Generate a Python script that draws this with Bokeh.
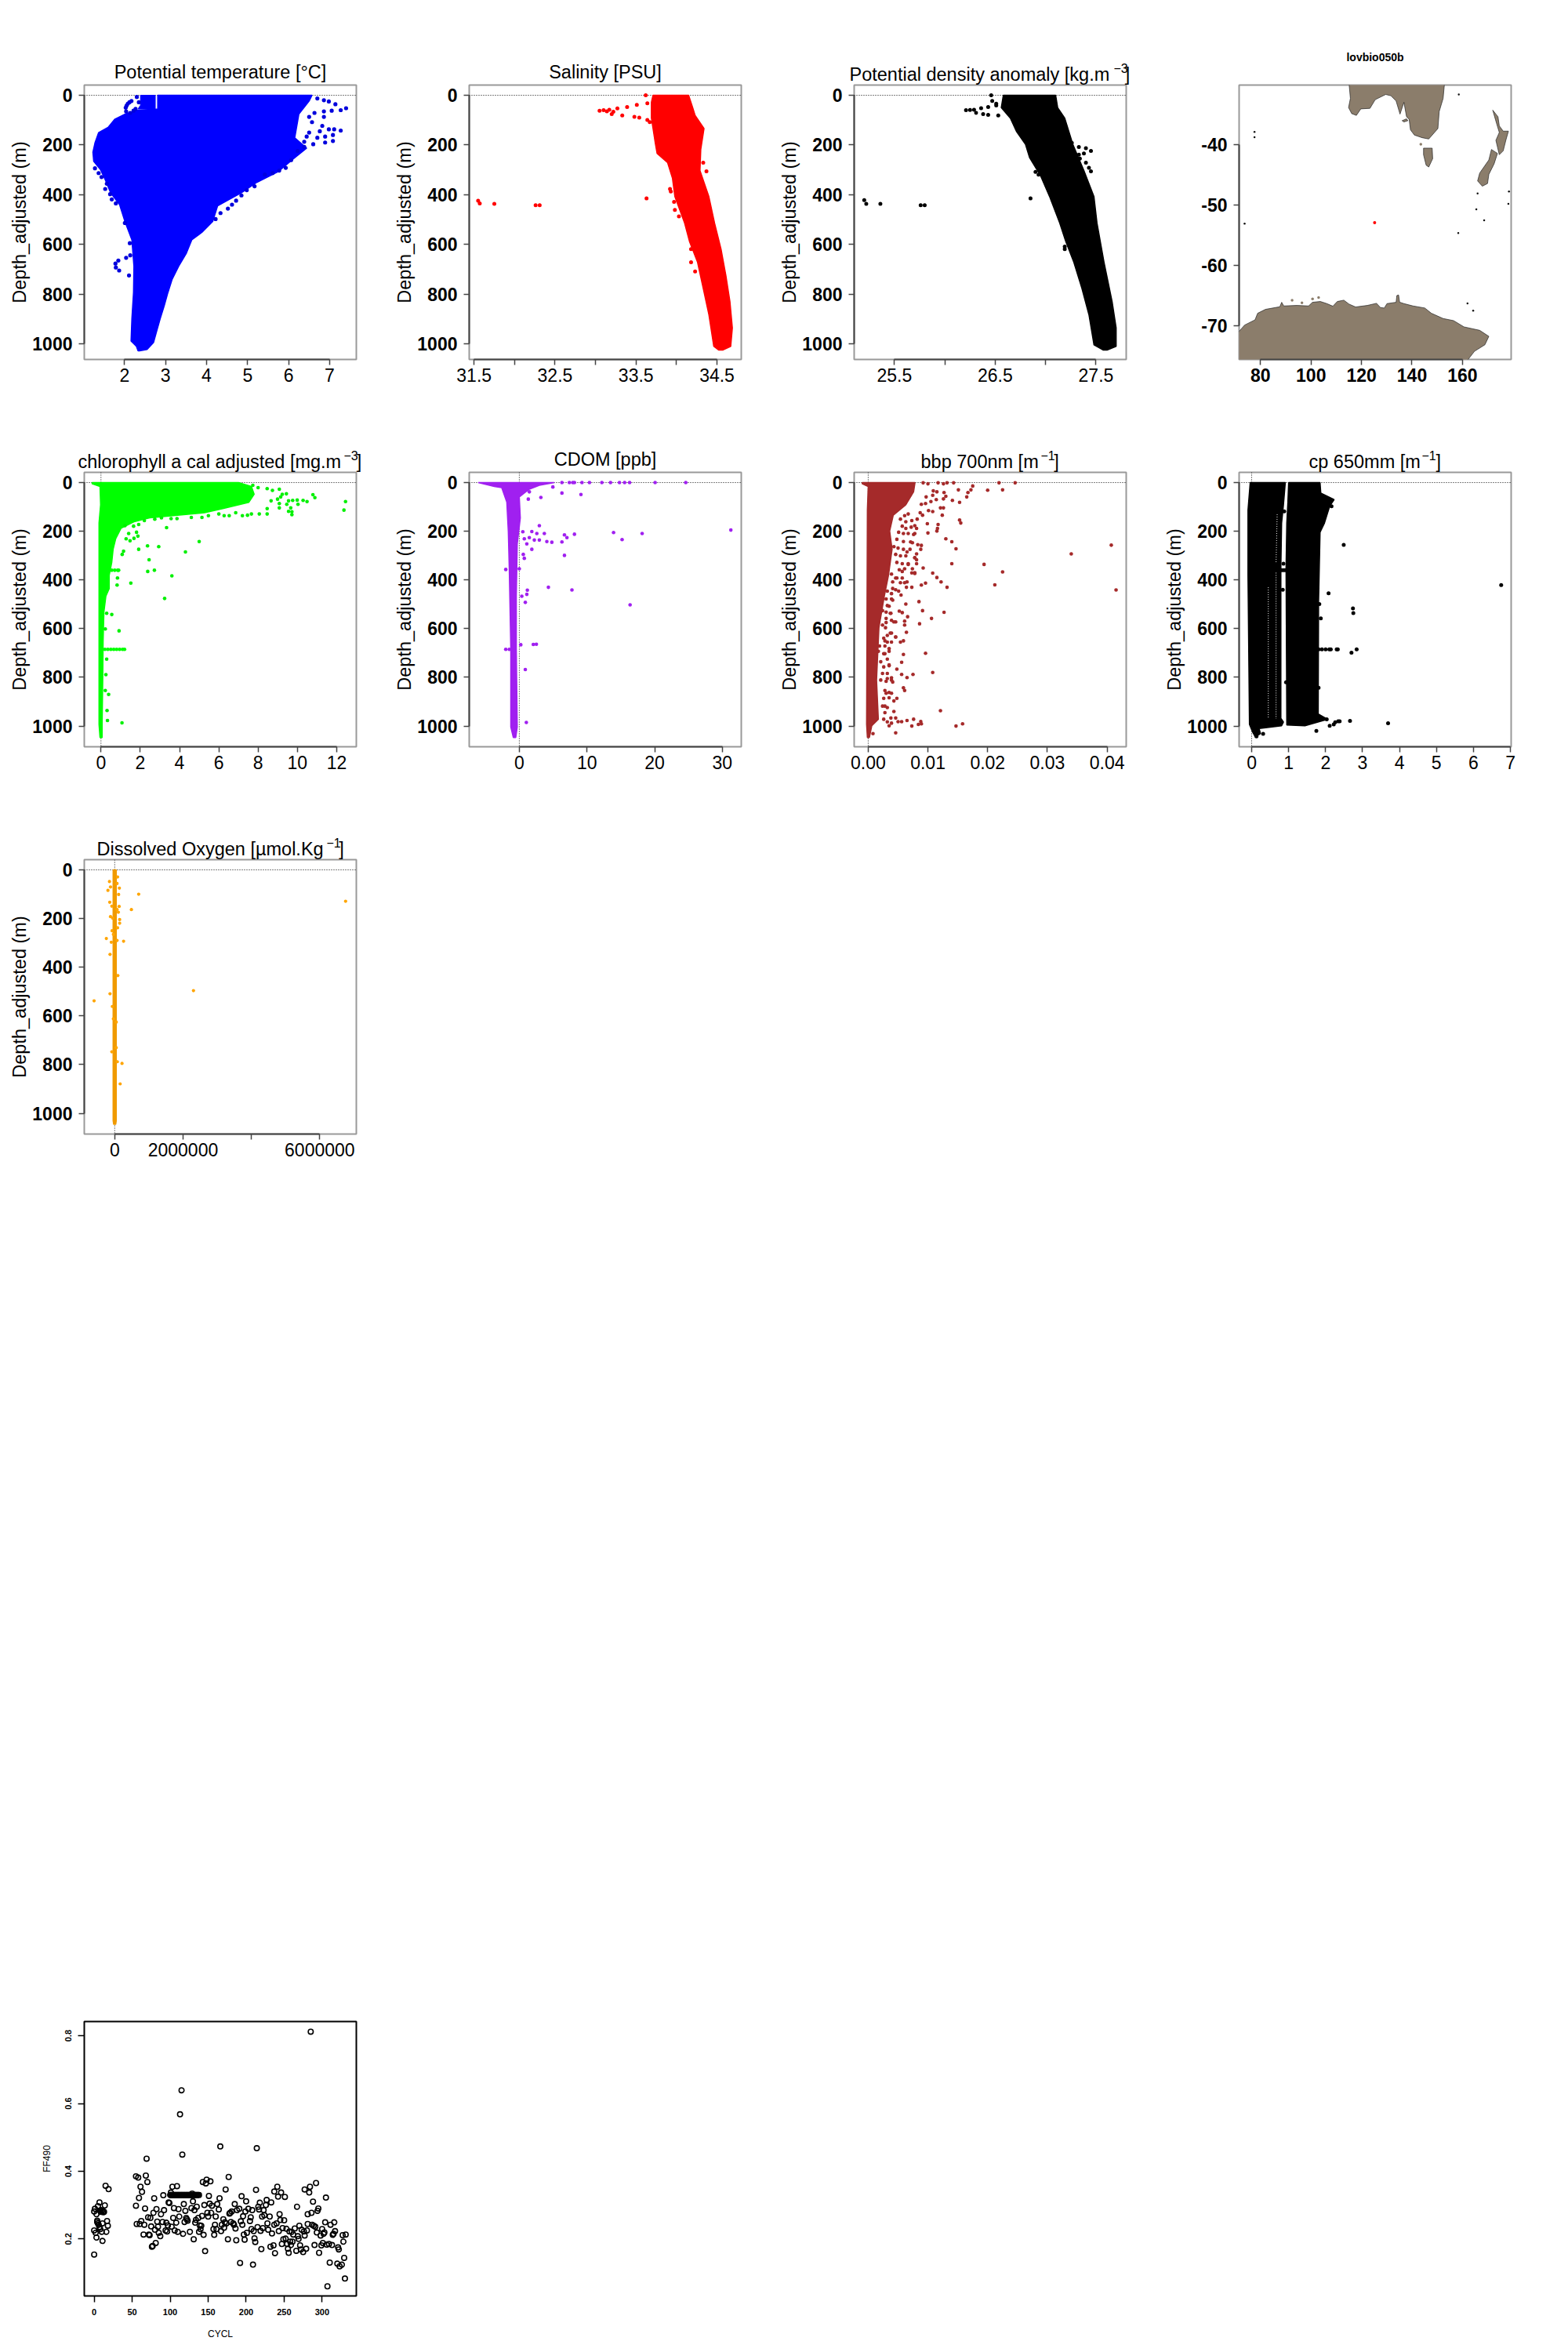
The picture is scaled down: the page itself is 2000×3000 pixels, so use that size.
from bokeh.plotting import figure
from bokeh.models import Range1d, FixedTicker, Span, Title, Spacer
from bokeh.layouts import column, row
from bokeh.embed import file_html
from bokeh.resources import INLINE

FONT = "Liberation Sans"

depth_ticks = [0, 200, 400, 600, 800, 1000]

# ---- Potential temperature
temp_left_x = [2.81, 2.81, 2.33, 2.01, 1.76, 1.60, 1.37, 1.28, 1.23, 1.25, 1.41, 1.53, 1.66, 1.88, 2.01, 2.18, 2.23, 2.22, 2.18, 2.16, 2.29, 2.33]
temp_left_d = [0, 55, 60, 76, 97, 129, 150, 192, 229, 266, 298, 340, 392, 440, 508, 582, 688, 793, 899, 989, 1010, 1028]
temp_right_x = [2.37, 2.55, 2.71, 2.78, 2.87, 2.97, 3.06, 3.16, 3.32, 3.51, 3.64, 3.89, 4.15, 4.27, 4.85, 5.23, 5.74, 6.12, 6.44, 6.15, 6.25, 6.50, 6.57]
temp_right_d = [1028, 1023, 994, 952, 899, 846, 793, 741, 688, 635, 582, 551, 508, 445, 392, 350, 308, 255, 213, 171, 76, 23, 0]
temp_strip_x = [2.39, 2.39, 2.33, 2.75, 2.75]
temp_strip_d = [0, 40, 55, 55, 0]
temp_pts_x = [6.70, 6.86, 6.98, 7.14, 7.27, 7.40, 6.63, 6.86, 7.05, 6.86, 6.50, 6.57, 6.82, 6.98, 7.27, 7.11, 6.76, 6.50, 7.08, 6.89, 6.70, 7.08, 6.89, 6.60, 6.38, 6.44, 6.38, 6.22, 6.06, 5.93, 5.77, 5.61, 5.42, 5.17, 4.98, 4.85, 4.72, 4.62, 4.52, 4.34, 4.22, 1.85, 1.78, 1.79, 1.87, 2.11, 2.04, 2.14, 2.13, 1.28, 1.37, 1.44, 1.57, 1.53, 1.65, 1.69, 1.79, 2.01, 2.30, 2.17, 2.08, 2.03, 2.04, 2.14, 2.27, 2.35, 2.12, 2.05, 2.22]
temp_pts_d = [13, 20, 25, 36, 60, 52, 71, 65, 62, 87, 87, 108, 123, 137, 142, 137, 145, 150, 160, 166, 171, 184, 190, 197, 187, 166, 208, 224, 261, 292, 303, 313, 319, 366, 382, 403, 424, 440, 456, 474, 498, 665, 677, 693, 705, 725, 654, 644, 595, 294, 313, 329, 356, 377, 398, 419, 435, 514, 7, 23, 34, 50, 65, 71, 55, 28, 28, 42, 62]

# ---- Salinity
sal_left_x = [33.71, 33.69, 33.69, 33.71, 33.74, 33.76, 33.89, 33.95, 33.98, 34.10, 34.16, 34.26, 34.33, 34.40, 34.44, 34.46, 34.52]
sal_left_d = [0, 28, 92, 134, 197, 234, 271, 334, 408, 514, 588, 672, 777, 883, 967, 1010, 1025]
sal_right_x = [34.57, 34.67, 34.69, 34.66, 34.61, 34.55, 34.47, 34.40, 34.29, 34.30, 34.34, 34.23, 34.20, 34.15]
sal_right_d = [1025, 1010, 936, 830, 725, 619, 514, 408, 303, 218, 134, 81, 50, 0]
sal_pts_x = [33.10, 33.14, 33.17, 33.27, 33.39, 33.51, 33.64, 33.20, 33.33, 33.48, 33.54, 33.64, 33.67, 33.62, 31.55, 31.57, 31.75, 32.26, 32.31, 33.63, 33.92, 33.93, 33.97, 33.98, 34.03, 34.18, 34.18, 34.23, 34.33, 34.37, 33.22, 33.05]
sal_pts_d = [60, 65, 58, 53, 47, 39, 32, 76, 81, 87, 90, 99, 108, 0, 424, 435, 437, 442, 442, 415, 377, 387, 429, 461, 487, 619, 672, 709, 271, 306, 66, 62]

# ---- Potential density anomaly
den_left_x = [26.58, 26.56, 26.65, 26.71, 26.80, 26.84, 26.95, 27.04, 27.14, 27.20, 27.28, 27.36, 27.43, 27.48, 27.57]
den_left_d = [0, 50, 92, 145, 197, 250, 324, 408, 514, 588, 672, 777, 883, 1004, 1025]
den_right_x = [27.61, 27.70, 27.70, 27.66, 27.58, 27.51, 27.48, 27.38, 27.27, 27.19, 27.12, 27.10]
den_right_d = [1025, 1010, 936, 830, 672, 514, 408, 303, 197, 92, 50, 0]
den_pts_x = [26.21, 26.25, 26.29, 26.36, 26.43, 26.51, 26.31, 26.38, 26.43, 26.53, 26.46, 26.47, 26.51, 27.26, 27.33, 27.40, 27.45, 27.38, 27.33, 27.34, 27.40, 27.43, 27.45, 25.20, 25.22, 25.36, 25.76, 25.80, 26.85, 26.90, 26.93, 27.19, 27.19]
den_pts_d = [60, 59, 58, 52, 47, 41, 71, 76, 79, 81, 0, 23, 34, 192, 208, 213, 224, 234, 239, 255, 271, 292, 306, 422, 437, 437, 442, 442, 415, 308, 319, 609, 619]

# ---- Map
antarctica_lon = [71.0, 71.39, 73.67, 77.81, 78.84, 81.95, 87.64, 88.37, 89.19, 94.37, 99.03, 100.58, 103.69, 106.27, 108.66, 110.41, 113.00, 115.07, 117.66, 122.32, 125.94, 127.50, 129.05, 130.08, 133.71, 134.0, 134.7, 135.1, 136.81, 140.44, 145.09, 147.68, 152.34, 156.48, 160.62, 166.83, 170.46, 168.90, 164.76, 162.17, 162.0, 71.0]
antarctica_lat = [-71.2, -70.99, -69.90, -69.03, -67.94, -67.29, -66.86, -66.12, -66.73, -66.64, -66.73, -66.12, -65.99, -66.34, -66.77, -65.99, -65.77, -66.42, -66.90, -66.64, -66.29, -66.99, -67.07, -66.34, -66.12, -65.0, -64.9, -66.1, -66.34, -66.73, -67.07, -67.94, -68.81, -69.16, -70.20, -70.77, -71.77, -73.16, -74.25, -75.64, -76.0, -76.0]
australia_lon = [114.87, 115.59, 114.87, 116.11, 117.97, 119.73, 123.35, 125.43, 129.57, 131.64, 133.71, 135.26, 136.81, 137.85, 138.88, 139.40, 140.95, 144.06, 146.65, 150.27, 150.79, 152.34, 153.07]
australia_lat = [-29.0, -32.31, -33.83, -34.83, -35.13, -34.05, -33.96, -32.52, -31.66, -31.87, -32.74, -34.92, -32.96, -35.35, -35.78, -37.52, -38.39, -38.83, -39.04, -37.31, -34.48, -32.31, -29.0]
tasmania_lon = [144.58, 148.0, 148.2, 146.65, 145.61, 144.58]
tasmania_lat = [-40.56, -40.56, -42.30, -43.69, -43.39, -41.65]
kangaroo_lon = [136.09, 137.85, 138.37, 136.81]
kangaroo_lat = [-36.0, -35.7, -36.0, -36.22]
nz_north_lon = [172.01, 174.08, 174.60, 176.15, 178.22, 177.19, 176.15, 174.60, 173.25, 174.60, 173.04]
nz_north_lat = [-34.26, -35.35, -36.87, -37.74, -37.74, -39.26, -41.0, -41.65, -39.26, -37.96, -35.78]
nz_south_lon = [171.49, 173.87, 172.53, 170.46, 169.94, 167.87, 166.0, 166.83, 170.46]
nz_south_lat = [-40.78, -41.43, -43.17, -44.91, -46.43, -46.87, -46.0, -44.69, -42.52]
islet_lon = [158.55, 77.6, 77.6, 73.67, 158.34, 178.43, 178.2, 166.0, 165.5, 168.6, 162.0, 164.25]
islet_lat = [-31.66, -37.87, -38.74, -53.08, -54.65, -47.74, -49.78, -48.08, -50.69, -52.52, -66.3, -67.5]
grey_islet_lon = [92.5, 96.4, 100.6, 103.0, 143.5]
grey_islet_lat = [-65.77, -66.2, -65.55, -65.34, -39.91]
float_lon = [125.2]
float_lat = [-52.9]

# ---- Chlorophyll
chl_left_x = [-0.45, -0.45, -0.05, -0.02, -0.10, -0.10, -0.05]
chl_left_d = [0, 5, 16, 91, 166, 993, 1047]
chl_right_x = [0.06, 0.06, 0.09, 0.11, 0.15, 0.25, 0.42, 0.42, 0.55, 0.62, 0.75, 1.02, 1.68, 2.48, 3.67, 5.27, 6.20, 7.53, 7.80, 7.66, 7.00]
chl_right_d = [1047, 993, 811, 650, 532, 467, 435, 381, 328, 274, 231, 188, 161, 145, 136, 124, 107, 81, 48, 16, 0]
chl_pts_x = [12.45, 12.37, 10.89, 10.79, 10.49, 10.29, 9.99, 10.03, 9.76, 9.55, 9.46, 9.66, 9.55, 9.72, 9.72, 9.44, 9.23, 9.15, 9.08, 9.08, 9.08, 8.99, 8.73, 8.66, 8.46, 8.46, 8.46, 8.00, 7.73, 8.06, 7.66, 7.46, 7.20, 6.86, 6.53, 6.27, 6.00, 5.47, 5.14, 4.60, 3.87, 3.57, 3.08, 2.74, 2.21, 1.92, 1.66, 1.22, 3.34, 5.00, 4.30, 2.94, 2.37, 1.92, 2.45, 2.38, 2.72, 3.61, 1.52, 3.24, 1.81, 1.88, 1.68, 1.48, 1.28, 1.41, 1.15, 1.08, 0.82, 0.84, 0.92, 0.55, 0.29, 0.22, 0.39, 0.22, 0.31, 0.33, 1.07, 0.29, 0.25]
chl_pts_d = [78, 113, 62, 50, 78, 73, 72, 89, 73, 75, 89, 104, 118, 120, 132, 46, 48, 59, 27, 86, 104, 68, 32, 75, 25, 107, 129, 21, 11, 129, 129, 134, 136, 124, 136, 136, 129, 136, 143, 143, 148, 148, 145, 150, 156, 172, 179, 177, 185, 242, 285, 263, 260, 274, 317, 365, 360, 383, 413, 476, 204, 220, 229, 239, 231, 209, 282, 295, 421, 392, 609, 542, 537, 601, 870, 854, 936, 977, 987, 725, 789]
chl_line_x = [0.2, 0.35, 0.5, 0.65, 0.8, 0.95, 1.1, 1.2, 0.4, 0.55, 0.7, 0.85, 0.9]
chl_line_d = [685, 685, 685, 685, 685, 685, 685, 685, 360, 360, 360, 360, 360]

# ---- CDOM
cdom_left_x = [-6.07, -3.7, -2.6, -1.85, -1.63, -1.48, -1.26, -1.26, -0.89]
cdom_left_d = [0, 16, 21, 80, 199, 360, 682, 1004, 1047]
cdom_right_x = [-0.52, -0.30, -0.44, -0.44, -0.30, 0.15, 0.0, 1.48, 2.96, 5.19]
cdom_right_d = [1047, 1004, 682, 467, 252, 145, 59, 27, 11, 0]
cdom_pts_x = [6.3, 7.4, 7.9, 8.15, 9.26, 10.37, 12.2, 13.48, 14.8, 15.56, 16.3, 20.07, 24.6, 4.96, 1.48, 6.3, 9.11, 3.19, 1.33, 2.96, 0.52, 1.85, 2.59, 3.7, 6.67, 8.15, 13.93, 18.15, 31.26, 15.19, 7.04, 0.74, 1.48, 2.22, 2.96, 4.07, 4.81, 6.3, 1.11, 1.85, 0.59, 6.67, 0.74, -2.0, 0.0, 4.3, 7.78, 1.19, 1.11, 0.37, 0.89, 16.37, -2.0, -1.48, 0.22, 2.07, 2.52, 0.89, 1.04]
cdom_pts_d = [0, 0, 0, 0, 0, 0, 0, 0, 0, 0, 0, 0, 0, 18, 38, 43, 49, 61, 68, 177, 202, 201, 209, 209, 215, 212, 205, 209, 195, 234, 226, 231, 226, 236, 236, 242, 245, 244, 252, 274, 295, 299, 311, 357, 354, 430, 441, 442, 459, 467, 492, 502, 685, 685, 666, 665, 664, 768, 985]

# ---- bbp
bbp_left_x = [-0.001, -0.001, 0.0, -0.00014, -0.00027, -0.00014]
bbp_left_d = [0, 5, 16, 113, 993, 1047]
bbp_right_x = [0.0002, 0.0006, 0.0017, 0.0014, 0.0018, 0.0027, 0.0034, 0.0040, 0.0036, 0.0042, 0.0063, 0.0076, 0.00784]
bbp_right_d = [1047, 999, 972, 811, 596, 467, 381, 274, 199, 134, 91, 38, 0]
bbp_pts_x = [0.0246, 0.0219, 0.0143, 0.0132, 0.0126, 0.0117, 0.0100, 0.0092, 0.0225, 0.0200, 0.0175, 0.0172, 0.0167, 0.0165, 0.0151, 0.0153, 0.0141, 0.0130, 0.0127, 0.0126, 0.0115, 0.0109, 0.0108, 0.0114, 0.0105, 0.0097, 0.0096, 0.0089, 0.0121, 0.0126, 0.0101, 0.0108, 0.0124, 0.0091, 0.0087, 0.0082, 0.0153, 0.0155, 0.0117, 0.0116, 0.0115, 0.0099, 0.0100, 0.0081, 0.0078, 0.0130, 0.0140, 0.0147, 0.0089, 0.0083, 0.0088, 0.0081, 0.0078, 0.0081, 0.0092, 0.0140, 0.0194, 0.0225, 0.0407, 0.0340, 0.0415, 0.0212, 0.0108, 0.0115, 0.0122, 0.0132, 0.0096, 0.0089, 0.0073, 0.0064, 0.0078, 0.0074, 0.0065, 0.0055, 0.0085, 0.0091, 0.0127, 0.0106, 0.0086, 0.0066, 0.0063, 0.0057, 0.0052, 0.0046, 0.0061, 0.0061, 0.0064, 0.0046, 0.0059, 0.0054, 0.0096, 0.0059, 0.0056, 0.0048, 0.0108, 0.0075, 0.0056, 0.0065, 0.0059, 0.0061, 0.0048, 0.0043, 0.0121, 0.0043, 0.0158, 0.0147, 0.0088, 0.0089, 0.0084, 0.0076, 0.0073, 0.0065, 0.0056, 0.0046, 0.0046, 0.0050, 0.0038, 0.0035, 0.0039, 0.0008, 0.0032, 0.0035, 0.0035, 0.0039, 0.0037, 0.0030, 0.0037, 0.0032, 0.0039, 0.0041, 0.0048, 0.0057, 0.0067, 0.0070, 0.0030, 0.0028, 0.0026, 0.0028,
             0.0061, 0.0067, 0.0054, 0.0063, 0.0073, 0.0078, 0.0072, 0.0063, 0.0057, 0.0051, 0.0059, 0.0067, 0.0076, 0.0048, 0.0059, 0.0071, 0.0074, 0.0043, 0.0050, 0.0059, 0.0065, 0.0046, 0.0054, 0.0063, 0.0078, 0.0081, 0.0048, 0.0057, 0.0067, 0.0052, 0.0061, 0.0073, 0.0078, 0.0039, 0.0046, 0.0057, 0.0041, 0.0054, 0.0061, 0.0046, 0.0051, 0.0032, 0.0039, 0.0030, 0.0041, 0.0035, 0.0024, 0.0030, 0.0038, 0.0030, 0.0039, 0.0043, 0.0024, 0.0029, 0.0032, 0.0039, 0.0046, 0.0026, 0.0032, 0.0039, 0.0019, 0.0028, 0.0035, 0.0017, 0.0028, 0.0021, 0.0032, 0.0026, 0.0035, 0.0024, 0.0032, 0.0021, 0.0039, 0.0030, 0.0041, 0.0028, 0.0035, 0.0039, 0.0026, 0.0035, 0.0024, 0.0032, 0.0028, 0.0026, 0.0032]
bbp_pts_d = [1, 1, 1, 1, 5, 1, 5, 1, 30, 31, 14, 30, 41, 59, 30, 81, 73, 56, 41, 67, 38, 34, 52, 70, 78, 59, 86, 89, 104, 104, 115, 119, 134, 134, 124, 150, 154, 166, 172, 188, 199, 169, 207, 188, 209, 231, 243, 272, 258, 255, 274, 293, 309, 333, 351, 333, 336, 367, 257, 293, 441, 420, 372, 390, 408, 430, 413, 421, 430, 430, 370, 354, 408, 462, 489, 526, 533, 558, 580, 551, 499, 534, 528, 572, 569, 585, 615, 634, 650, 655, 701, 706, 738, 766, 780, 788, 788, 801, 843, 854, 886, 897, 937, 940, 991, 1000, 981, 991, 993, 972, 1000, 977, 982, 967, 1028, 982, 967, 999, 988, 1031, 805, 752, 693, 811, 618, 575, 537, 505, 478, 435, 392, 365, 333, 274, 865, 918, 703, 650,
             136, 129, 150, 161, 156, 177, 183, 188, 179, 204, 209, 209, 213, 233, 242, 244, 247, 263, 269, 274, 285, 295, 301, 301, 308, 317, 328, 333, 336, 358, 354, 371, 373, 376, 392, 392, 408, 411, 411, 440, 446, 446, 456, 478, 483, 508, 526, 532, 537, 558, 566, 572, 585, 596, 628, 618, 634, 639, 655, 655, 671, 671, 682, 693, 703, 736, 725, 757, 749, 784, 784, 811, 802, 816, 819, 854, 862, 865, 886, 884, 918, 924, 945, 972, 983]

# ---- cp
cp_a_left_x = [-0.04, -0.10, -0.10, -0.06, 0.03, 0.10, 0.24, 0.20]
cp_a_left_d = [0, 113, 381, 993, 1026, 1045, 1031, 1010]
cp_a_right_x = [0.81, 0.86, 0.79, 0.79, 0.81, 0.86, 0.91]
cp_a_right_d = [999, 983, 968, 350, 166, 91, 0]
cp_b_left_x = [1.00, 0.98, 0.95, 0.93, 0.95]
cp_b_left_d = [0, 80, 166, 350, 996]
cp_b_right_x = [1.44, 2.05, 1.80, 1.81, 1.85, 1.97, 2.11, 2.23, 1.87, 1.85]
cp_b_right_d = [999, 972, 950, 489, 204, 166, 97, 70, 43, 0]
cp_pts_x = [6.75, 2.49, 2.08, 2.74, 2.75, 1.83, 1.87, 2.30, 2.33, 2.84, 2.70, 1.81, 3.69, 2.66, 2.38, 2.22, 2.11, 2.03, 2.16, 1.75, 0.31, 0.13, 0.11, 0.86, 0.84, 0.93, 0.88, 1.81, 1.90, 2.00, 2.10, 2.14, 0.80, 0.85, 0.90, 0.95, 2.34, 2.26]
cp_pts_d = [421, 256, 455, 517, 536, 499, 558, 685, 685, 685, 699, 843, 988, 979, 980, 993, 999, 972, 97, 1020, 1032, 1042, 1026, 333, 440, 820, 118, 685, 685, 685, 685, 685, 360, 360, 360, 360, 980, 984]
cp_slit_a_x = [0.45, 0.45]
cp_slit_a_d = [430, 970]
cp_slit_b_x = [0.66, 0.66]
cp_slit_b_d = [370, 970]
cp_slit_c_x = [0.69, 0.66]
cp_slit_c_d = [130, 330]

# ---- Dissolved oxygen
do_left_x = [-46000, -46000, -30000]
do_left_d = [0, 1030, 1045]
do_right_x = [30000, 46000, 46000]
do_right_d = [1045, 1030, 0]
do_pts_x = [6756000, 2305000, 702000, 489000, -603000, 260000, -244000, -153000, -198000, -122000, 137000, 115000, -145000, -84000, 130000, 69000, 107000, -122000, -61000, 145000, 145000, 84000, -76000, -99000, 69000, -137000, 92000, -137000, -69000, -38000, 46000, -84000, 46000, 76000, 214000, 160000, -38000, 84000, 69000]
do_pts_d = [129, 496, 100, 163, 538, 293, 282, 48, 84, 70, 75, 101, 133, 149, 150, 163, 174, 192, 198, 204, 219, 238, 250, 297, 290, 347, 434, 509, 561, 612, 625, 747, 730, 788, 795, 879, 265, 29, 56]

# ---- FF490
ff_cycle = [0, 0, 0, 1, 2, 3, 3, 4, 4, 5, 5, 6, 7, 7, 8, 9, 10, 11, 11, 12, 13, 14, 15, 16, 17, 18, 19, 8, 9, 11, 12,
            55, 55, 56, 58, 59, 60, 61, 62, 63, 65, 66, 67, 68, 69, 70, 71, 72, 73, 74, 75, 76, 77, 78, 79, 80, 81, 82, 83, 84, 85, 87, 88, 90, 91, 92, 94, 95, 96, 97, 98, 99,
            101, 102, 103, 104, 105, 106, 108, 109, 110, 111, 112, 113, 115, 116, 117, 118, 119, 120, 121, 122, 123, 126, 128, 129, 130, 131, 132, 133, 134, 135, 137, 138, 139, 140, 141, 142, 143, 144, 145, 146, 147, 148, 149, 150, 151, 152, 153, 154, 155, 157, 158, 159, 160, 161, 162, 164, 165, 166, 167, 168, 170, 171, 172, 173, 174, 176, 177, 178, 179, 180, 181, 183, 184, 185, 186, 187, 188, 191, 192, 193, 194, 195, 196, 197, 198, 199, 200, 201, 203, 205, 206, 207, 208, 209, 210, 211, 212, 213, 214, 215, 216, 217, 218, 219, 220, 221, 222, 223, 224, 226, 227, 228, 229, 231, 232, 233, 234, 236, 237, 237, 238, 240, 241, 242, 243, 244, 245, 246, 247, 248, 249, 250, 251, 252, 253, 254, 255, 256, 257, 258, 259, 260, 261, 262, 264, 266, 267, 268, 269, 270, 271, 272, 273, 275, 276, 277, 277, 279, 280, 281, 281, 283, 284, 285, 286, 287, 288, 289, 290, 291, 292, 293, 294, 295, 296, 298, 299, 300, 301, 302, 303, 304, 305, 306, 307, 309, 310, 311, 313, 314, 315, 316, 317, 320, 321, 322, 323, 326, 327, 328, 329, 330, 331]
ff_value = [0.154, 0.225, 0.281, 0.289, 0.218, 0.204, 0.273, 0.254, 0.250, 0.297, 0.246, 0.242, 0.308, 0.235, 0.229, 0.285, 0.221, 0.194, 0.246, 0.281, 0.280, 0.299, 0.357, 0.221, 0.253, 0.239, 0.347, 0.283, 0.280, 0.284, 0.279,
            0.298, 0.385, 0.244, 0.381, 0.321, 0.244, 0.354, 0.253, 0.339, 0.213, 0.242, 0.290, 0.387, 0.437, 0.368, 0.264, 0.213, 0.211, 0.262, 0.237, 0.177, 0.179, 0.277, 0.320, 0.227, 0.188, 0.288, 0.251, 0.236, 0.218, 0.208, 0.273, 0.250, 0.329, 0.285, 0.225, 0.248, 0.222, 0.240, 0.308, 0.306,
            0.337, 0.236, 0.354, 0.262, 0.291, 0.225, 0.248, 0.356, 0.221, 0.288, 0.266, 0.568, 0.639, 0.449, 0.215, 0.303, 0.250, 0.283, 0.262, 0.258, 0.254, 0.221, 0.291, 0.334, 0.311, 0.199, 0.285, 0.248, 0.256, 0.295, 0.262, 0.221, 0.240, 0.229, 0.239, 0.268, 0.368, 0.212, 0.300, 0.164, 0.364, 0.375, 0.277, 0.266, 0.327, 0.304, 0.370, 0.277, 0.298, 0.229, 0.212, 0.242, 0.266, 0.229, 0.303, 0.287, 0.320, 0.473, 0.223, 0.242, 0.258, 0.233, 0.249, 0.346, 0.246, 0.199, 0.383, 0.275, 0.277, 0.250, 0.281, 0.246, 0.242, 0.303, 0.231, 0.196, 0.285, 0.289, 0.129, 0.252, 0.326, 0.242, 0.267, 0.213, 0.198, 0.281, 0.311, 0.218, 0.289, 0.253, 0.264, 0.229, 0.285, 0.124, 0.223, 0.202, 0.191, 0.345, 0.468, 0.235, 0.295, 0.287, 0.307, 0.224, 0.170, 0.266, 0.232, 0.285, 0.270, 0.300, 0.315, 0.246, 0.227, 0.266, 0.177, 0.308, 0.216, 0.181, 0.242, 0.340, 0.158, 0.246, 0.354, 0.325, 0.223, 0.273, 0.256, 0.337, 0.185, 0.232, 0.199, 0.255, 0.324, 0.201, 0.230, 0.185, 0.171, 0.159, 0.222, 0.192, 0.182, 0.221, 0.192, 0.213, 0.231, 0.165, 0.295, 0.208, 0.200, 0.239, 0.181, 0.169, 0.227, 0.161, 0.222, 0.210, 0.346, 0.171, 0.225, 0.244, 0.273, 0.337, 0.354, 0.812, 0.277, 0.242, 0.310, 0.239, 0.182, 0.236, 0.365, 0.219, 0.283, 0.290, 0.159, 0.210, 0.181, 0.229, 0.188, 0.215, 0.219, 0.249, 0.322, 0.183, 0.060, 0.185, 0.130, 0.242, 0.182, 0.212, 0.215, 0.249, 0.223, 0.127, 0.175, 0.169, 0.119, 0.124, 0.211, 0.192, 0.144, 0.083, 0.213]
ff_flat_cycle = [100, 101, 102, 103, 104, 105, 106, 107, 108, 109, 110, 111, 112, 113, 114, 115, 116, 117, 118, 119, 120, 121, 122, 123, 124, 125, 126, 127, 128, 129, 130, 131, 132, 133, 134, 135, 136, 137, 138]
ff_flat_value = [0.33, 0.33, 0.33, 0.33, 0.33, 0.33, 0.33, 0.33, 0.33, 0.33, 0.33, 0.33, 0.33, 0.33, 0.33, 0.33, 0.33, 0.33, 0.33, 0.33, 0.33, 0.33, 0.33, 0.33, 0.33, 0.33, 0.33, 0.33, 0.33, 0.33, 0.33, 0.33, 0.33, 0.33, 0.33, 0.33, 0.33, 0.33, 0.33]


def make_panel(xr, yr, xticks, xlabels, yticks, ylabels, ylabel=None, x_bold=False, y_bold=True):
    p = figure(width=491, height=494, min_border_left=100, min_border_right=44, min_border_top=100,
               min_border_bottom=44, x_range=Range1d(*xr), y_range=Range1d(*yr), output_backend="svg",
               toolbar_location=None)
    p.grid.grid_line_color = None
    p.outline_line_color = "#999999"
    p.outline_line_width = 2
    p.background_fill_color = "white"
    p.border_fill_color = None
    for ax, ticks, labels, bold in ((p.xaxis[0], xticks, xlabels, x_bold), (p.yaxis[0], yticks, ylabels, y_bold)):
        ax.ticker = FixedTicker(ticks=ticks)
        ax.major_label_overrides = dict(zip(ticks, labels))
        ax.bounds = (min(ticks), max(ticks))
        ax.axis_line_color = "#444444"
        ax.axis_line_width = 2
        ax.major_tick_line_color = "#444444"
        ax.major_tick_line_width = 1.5
        ax.major_tick_in = 0
        ax.major_tick_out = 7
        ax.minor_tick_line_color = None
        ax.major_label_text_font = FONT
        ax.major_label_text_font_size = "23px"
        ax.major_label_text_color = "black"
        ax.major_label_text_font_style = "bold" if bold else "normal"
    p.xaxis[0].major_label_standoff = 4
    p.yaxis[0].major_label_standoff = 8
    p.yaxis[0].major_label_orientation = "horizontal"
    if ylabel:
        p.yaxis[0].axis_label = ylabel
        p.yaxis[0].axis_label_text_font = FONT
        p.yaxis[0].axis_label_text_font_size = "23.5px"
        p.yaxis[0].axis_label_text_font_style = "normal"
        p.yaxis[0].axis_label_text_color = "black"
        p.yaxis[0].axis_label_standoff = 0
    return p


def add_title(p, text, size="23.5px", align="center", offset=0, standoff=7, style="normal"):
    p.add_layout(Title(text=text, text_font=FONT, text_font_size=size, text_font_style=style, text_color="black",
                       align=align, offset=offset, standoff=standoff), "above")


def title_sup(p, left_offset, text, sup_offset, sup):
    add_title(p, text, align="left", offset=left_offset, standoff=2)
    add_title(p, sup, size="16px", align="left", offset=sup_offset, standoff=-29)


def zero_lines(p, vertical=False):
    p.add_layout(Span(location=0, dimension="width", line_color="black", line_width=1, line_dash="1 2", level="underlay"))
    if vertical:
        p.add_layout(Span(location=0, dimension="height", line_color="black", line_width=1, line_dash="1 2", level="underlay"))


def envelope(p, lx, ld, rx, rd, color):
    p.patch(lx + rx, ld + rd, fill_color=color, line_color=color, line_width=1.5)


def dots(p, x, y, color, size):
    p.scatter(x, y, marker="circle", size=size, fill_color=color, line_color=None)


R1 = (1063, -41)
R2 = (1085, -42)
dl = ["0", "200", "400", "600", "800", "1000"]
NB = "\u00a0"

# Row 1
p1 = make_panel((1.02, 7.65), R1, [2, 3, 4, 5, 6, 7], ["2", "3", "4", "5", "6", "7"], depth_ticks, dl, "Depth_adjusted (m)")
zero_lines(p1)
envelope(p1, temp_left_x, temp_left_d, temp_right_x, temp_right_d, "#0000FF")
p1.patch(temp_strip_x, temp_strip_d, fill_color="#0000FF", line_color="#0000FF", line_width=1)
dots(p1, temp_pts_x, temp_pts_d, "#0000DD", 5.2)
add_title(p1, "Potential temperature [\u00b0C]")

p2 = make_panel((31.44, 34.8), R1, [31.5, 32, 32.5, 33, 33.5, 34, 34.5], ["31.5", "", "32.5", "", "33.5", "", "34.5"], depth_ticks, dl, "Depth_adjusted (m)")
zero_lines(p2)
envelope(p2, sal_left_x, sal_left_d, sal_right_x, sal_right_d, "#FF0000")
dots(p2, sal_pts_x, sal_pts_d, "#FF0000", 5)
add_title(p2, "Salinity [PSU]")

p3 = make_panel((25.10, 27.8), R1, [25.5, 26, 26.5, 27, 27.5], ["25.5", "", "26.5", "", "27.5"], depth_ticks, dl, "Depth_adjusted (m)")
zero_lines(p3)
envelope(p3, den_left_x, den_left_d, den_right_x, den_right_d, "#000000")
dots(p3, den_pts_x, den_pts_d, "#000000", 5)
title_sup(p3, -6, "Potential density anomaly [kg.m" + NB * 3 + "]", 331, "\u22123")

p4 = make_panel((71.5, 179.3), (-75.6, -30.1), [80, 100, 120, 140, 160], ["80", "100", "120", "140", "160"], [-70, -60, -50, -40], ["-70", "-60", "-50", "-40"], None, x_bold=True)
LAND = "#8B7D6B"
for lon, lat in ((antarctica_lon, antarctica_lat), (australia_lon, australia_lat), (tasmania_lon, tasmania_lat),
                 (kangaroo_lon, kangaroo_lat), (nz_north_lon, nz_north_lat), (nz_south_lon, nz_south_lat)):
    p4.patch(lon, lat, fill_color=LAND, line_color="#222222", line_width=0.7)
dots(p4, islet_lon, islet_lat, "#111111", 2.5)
dots(p4, grey_islet_lon, grey_islet_lat, LAND, 3.5)
dots(p4, float_lon, float_lat, "#FF0000", 4)
add_title(p4, "lovbio050b", size="14px", standoff=56, style="bold")

# Row 2
p5 = make_panel((-0.85, 13.0), R2, [0, 2, 4, 6, 8, 10, 12], ["0", "2", "4", "6", "8", "10", "12"], depth_ticks, dl, "Depth_adjusted (m)")
zero_lines(p5, True)
envelope(p5, chl_left_x, chl_left_d, chl_right_x, chl_right_d, "#00FF00")
dots(p5, chl_pts_x, chl_pts_d, "#00F000", 4.6)
dots(p5, chl_line_x, chl_line_d, "#00FF00", 4.6)
title_sup(p5, -8, "chlorophyll a cal adjusted [mg.m" + NB * 3 + "]", 331, "\u22123")

p6 = make_panel((-7.4, 32.8), R2, [0, 10, 20, 30], ["0", "10", "20", "30"], depth_ticks, dl, "Depth_adjusted (m)")
zero_lines(p6, True)
envelope(p6, cdom_left_x, cdom_left_d, cdom_right_x, cdom_right_d, "#A020F0")
dots(p6, cdom_pts_x, cdom_pts_d, "#A020F0", 4.6)
add_title(p6, "CDOM [ppb]")

p7 = make_panel((-0.00235, 0.0432), R2, [0, 0.01, 0.02, 0.03, 0.04], ["0.00", "0.01", "0.02", "0.03", "0.04"], depth_ticks, dl, "Depth_adjusted (m)")
zero_lines(p7, True)
envelope(p7, bbp_left_x, bbp_left_d, bbp_right_x, bbp_right_d, "#A52A2A")
dots(p7, bbp_pts_x, bbp_pts_d, "#A52A2A", 4.6)
title_sup(p7, 85, "bbp 700nm [m" + NB * 3 + "]", 238, "\u22121")

p8 = make_panel((-0.34, 7.02), R2, [0, 1, 2, 3, 4, 5, 6, 7], ["0", "1", "2", "3", "4", "5", "6", "7"], depth_ticks, dl, "Depth_adjusted (m)")
zero_lines(p8, True)
envelope(p8, cp_a_left_x, cp_a_left_d, cp_a_right_x, cp_a_right_d, "#000000")
envelope(p8, cp_b_left_x, cp_b_left_d, cp_b_right_x, cp_b_right_d, "#000000")
for sx, sd in ((cp_slit_a_x, cp_slit_a_d), (cp_slit_b_x, cp_slit_b_d), (cp_slit_c_x, cp_slit_c_d)):
    p8.line(sx, sd, line_color="white", line_width=1, line_dash="1 2")
dots(p8, cp_pts_x, cp_pts_d, "#000000", 5)
title_sup(p8, 89, "cp 650mm [m" + NB * 3 + "]", 233, "\u22121")

# Row 3
p9 = make_panel((-890000, 7070000), R2, [0, 2000000, 4000000, 6000000], ["0", "2000000", "", "6000000"], depth_ticks, dl, "Depth_adjusted (m)")
zero_lines(p9, True)
envelope(p9, do_left_x, do_left_d, do_right_x, do_right_d, "#F09A00")
dots(p9, do_pts_x, do_pts_d, "#FFA500", 4.2)
title_sup(p9, 16, "Dissolved Oxygen [\u00b5mol.Kg" + NB * 3 + "]", 309, "\u22121")

# FF490
ff = figure(width=491, height=522, min_border_left=100, min_border_right=44, min_border_top=100, min_border_bottom=72,
            x_range=Range1d(-13, 345), y_range=Range1d(0.0316, 0.842), output_backend="svg", toolbar_location=None)
ff.grid.grid_line_color = None
ff.outline_line_color = "black"
ff.outline_line_width = 2
ff.border_fill_color = None
ff.xaxis[0].ticker = FixedTicker(ticks=[0, 50, 100, 150, 200, 250, 300])
ff.yaxis[0].ticker = FixedTicker(ticks=[0.2, 0.4, 0.6, 0.8])
ff.yaxis[0].major_label_overrides = {0.2: "0.2", 0.4: "0.4", 0.6: "0.6", 0.8: "0.8"}
ff.yaxis[0].major_label_orientation = "vertical"
for ax, name in ((ff.xaxis[0], "CYCL"), (ff.yaxis[0], "FF490")):
    ax.axis_label = name
    ax.axis_label_text_font = FONT
    ax.axis_label_text_font_size = "12px"
    ax.axis_label_text_font_style = "normal"
    ax.axis_label_text_color = "black"
    ax.axis_line_color = "black"
    ax.axis_line_width = 1
    ax.major_tick_line_color = "black"
    ax.major_tick_line_width = 1.5
    ax.major_tick_in = 0
    ax.major_tick_out = 8
    ax.minor_tick_line_color = None
    ax.major_label_text_font = FONT
    ax.major_label_text_font_size = "11px"
    ax.major_label_text_font_style = "bold"
    ax.major_label_text_color = "black"
    ax.major_label_standoff = 8
    ax.axis_label_standoff = 14
ff.scatter(ff_cycle, ff_value, marker="circle", size=6.4, fill_color=None, line_color="black", line_width=1.6)
ff.scatter(ff_flat_cycle, ff_flat_value, marker="circle", size=6.4, fill_color=None, line_color="black", line_width=1.6)

layout = row(Spacer(width=7), column(Spacer(height=8), row(p1, p2, p3, p4), row(p5, p6, p7, p8), row(p9), Spacer(height=988), ff))
open("out.html", "w").write(file_html(layout, INLINE))
